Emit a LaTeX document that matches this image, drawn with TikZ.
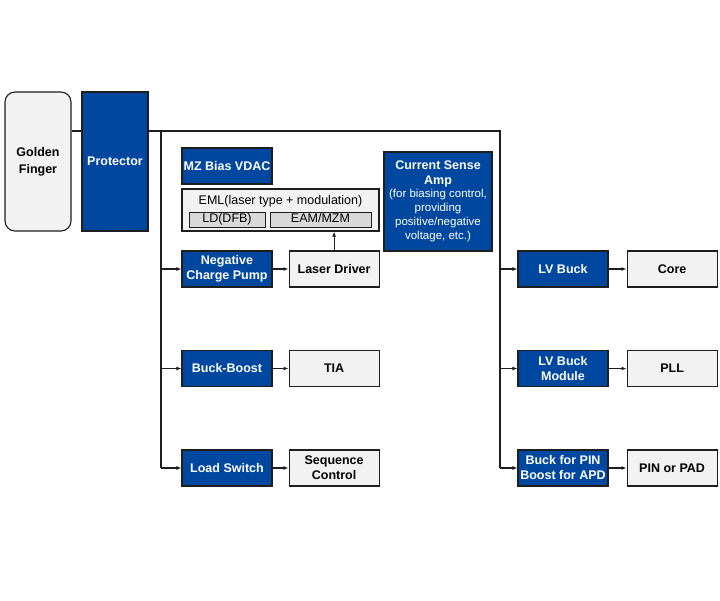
\documentclass[tikz,border=0pt]{standalone}
\usepackage{fontspec}
\setmainfont{Liberation Sans}
\usetikzlibrary{arrows.meta,positioning}
\definecolor{bloqueazul}{RGB}{0,71,160}
\definecolor{cajagris}{RGB}{242,242,242}
\definecolor{subgris}{RGB}{217,217,217}
\definecolor{lineaoscura}{RGB}{30,30,30}
\tikzset{
  azul/.style={
    draw=lineaoscura,
    line width=1.1pt,
    fill=bloqueazul,
    text=white,
    align=center,
    minimum width=90pt,
    minimum height=36pt,
    inner sep=1pt,
    font=\bfseries\fontsize{12.5}{15}\selectfont
  },
  gris/.style={
    draw=lineaoscura,
    line width=1.1pt,
    fill=cajagris,
    align=center,
    minimum width=90pt,
    minimum height=36pt,
    inner sep=1pt,
    font=\bfseries\fontsize{12.5}{15}\selectfont
  },
  sub/.style={
    draw=lineaoscura,
    line width=.8pt,
    fill=subgris,
    minimum height=15pt,
    inner sep=0pt,
    font=\fontsize{12.5}{14}\selectfont
  },
  linea/.style={
    line width=1.1pt,
    lineaoscura
  },
  arrow/.style={
    -{Latex[length=5pt,width=4pt]},
    line width=1.1pt,
    lineaoscura
  }
}
\begin{document}
\begin{tikzpicture}[x=1pt,y=-1pt]
\useasboundingbox (0,0) rectangle (720,600);
% entrada
\node[gris, rounded corners=10pt, minimum width=66pt, minimum height=139pt,
  font=\bfseries\fontsize{12.5}{17}\selectfont] (gf) at (38,161.5) {Golden\\Finger};
\node[azul, minimum width=66pt, minimum height=139pt] (prot) at (115,161.5) {Protector};
\coordinate (busizq) at (161,131);
\coordinate (busder) at (500,131);
% laser
\node[azul] (mz) at (227,166) {MZ Bias VDAC};
\node[gris, minimum width=197pt, minimum height=42pt] (eml) at (280.5,210) {};
\node[font=\fontsize{12.5}{14}\selectfont, inner sep=0pt] (emltxt) at (280.5,201) {EML(laser type + modulation)};
\node[sub, minimum width=76pt, text height=9pt, text depth=2.5pt] (ld) at (227,219.5) {LD(DFB)};
\node[sub, minimum width=101pt, text height=9pt, text depth=2.5pt] (eam) at (320.5,219.5) {EAM/MZM};
\node[azul] (ncp) at (227,269) {Negative\\Charge Pump};
\node[gris, right=16pt of ncp] (ldrv) {Laser Driver};
\node[azul, minimum width=108pt, minimum height=99pt] (csa) at (438,201.5)
  {Current Sense\\Amp\\[-2pt]{\mdseries\fontsize{11.5}{13.5}\selectfont (for biasing control,}\\[-1pt]
   {\mdseries\fontsize{11.5}{13.5}\selectfont providing}\\[-1pt]
   {\mdseries\fontsize{11.5}{13.5}\selectfont positive/negative}\\[-1pt]
   {\mdseries\fontsize{11.5}{13.5}\selectfont voltage, etc.)}};
\node[azul] (bb) at (227,368.5) {Buck-Boost};
\node[gris, right=16pt of bb] (tia) {TIA};
\node[azul] (ls) at (227,468) {Load Switch};
\node[gris, right=16pt of ls] (seq) {Sequence\\Control};
% derecha
\node[azul] (lvb) at (563,269) {LV Buck};
\node[gris, right=18pt of lvb] (core) {Core};
\node[azul] (lvbm) at (563,368.5) {LV Buck\\Module};
\node[gris, right=18pt of lvbm] (pll) {PLL};
\node[azul] (bpin) at (563,468) {Buck for PIN\\Boost for APD};
\node[gris, right=18pt of bpin] (pin) {PIN or PAD};
% buses
\draw[linea] (gf.east |- busizq) -- (prot.west |- busizq);
\draw[linea] (prot.east |- busizq) -- (busder) -- (busder |- bpin.west);
\draw[linea] (busizq) -- (busizq |- ls.west);
% flechas
\draw[arrow] (busizq |- ncp.west) -- (ncp.west);
\draw[arrow] (busizq |- bb.west) -- (bb.west);
\draw[arrow] (busizq |- ls.west) -- (ls.west);
\draw[arrow] (ncp) -- (ldrv);
\draw[arrow] (bb) -- (tia);
\draw[arrow] (ls) -- (seq);
\draw[arrow] (ldrv.north) -- (ldrv.north |- eml.south);
\draw[arrow] (busder |- lvb.west) -- (lvb.west);
\draw[arrow] (busder |- lvbm.west) -- (lvbm.west);
\draw[arrow] (busder |- bpin.west) -- (bpin.west);
\draw[arrow] (lvb) -- (core);
\draw[arrow] (lvbm) -- (pll);
\draw[arrow] (bpin) -- (pin);
\end{tikzpicture}
\end{document}
